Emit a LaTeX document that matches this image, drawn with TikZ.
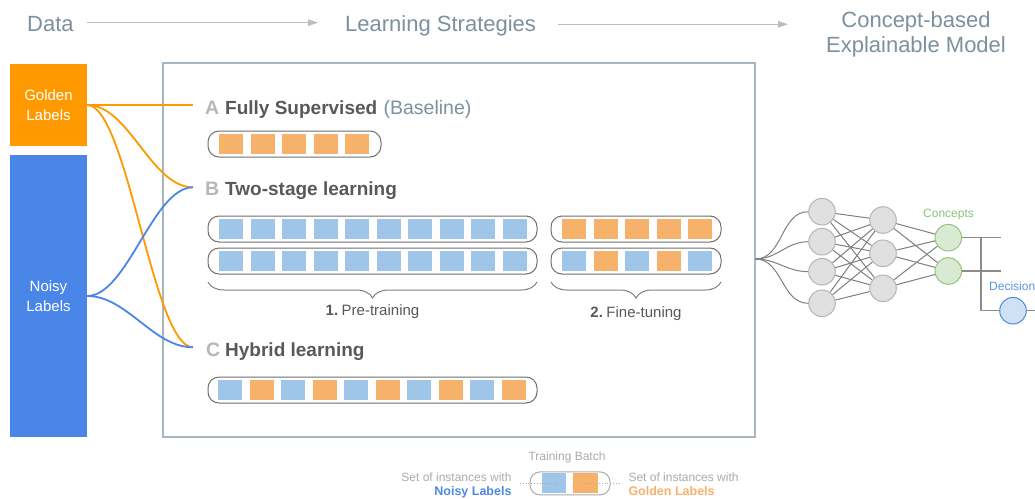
\documentclass[tikz,border=0pt]{standalone}
\usepackage{fontspec}
\setmainfont{Liberation Sans}
\usetikzlibrary{arrows.meta,decorations.pathreplacing,calc}
\definecolor{titlec}{HTML}{7B919E}
\definecolor{arrowc}{HTML}{BDBDBD}
\definecolor{goldc}{HTML}{FF9900}
\definecolor{noisyc}{HTML}{4A86E8}
\definecolor{sqo}{HTML}{F6B26B}
\definecolor{sqb}{HTML}{9FC5E8}
\definecolor{framec}{HTML}{A7B6C1}
\definecolor{letterc}{HTML}{B7B7B7}
\definecolor{headc}{HTML}{595959}
\definecolor{batchc}{HTML}{6E6E6E}
\definecolor{bracec}{HTML}{808080}
\definecolor{nodefill}{HTML}{E0E0E0}
\definecolor{nodedraw}{HTML}{B5B5B5}
\definecolor{netc}{HTML}{7F7F7F}
\definecolor{confill}{HTML}{D9EAD3}
\definecolor{condraw}{HTML}{93C47D}
\definecolor{context}{HTML}{8BC277}
\definecolor{decfill}{HTML}{CFE2F3}
\definecolor{decdraw}{HTML}{4F8BDB}
\definecolor{dectext}{HTML}{5B95E0}
\definecolor{legc}{HTML}{ABABAB}
\definecolor{legblue}{HTML}{5088E2}
\begin{document}
\begin{tikzpicture}[x=1pt,y=-1pt,
  title/.style={inner sep=0, text=titlec, font=\fontsize{22}{26}\selectfont},
  databox/.style={inner sep=0, minimum width=77, text=white, align=center, font=\fontsize{15}{19.5}\selectfont},
  letter/.style={inner sep=0, anchor=base west, text=letterc, font=\fontsize{19.5}{23}\selectfont\bfseries},
  head/.style={inner sep=0, anchor=base west, text=headc, font=\fontsize{19}{23}\selectfont\bfseries},
  sub/.style={inner sep=0, anchor=base west, text=titlec, font=\fontsize{19.5}{23}\selectfont},
  batch/.style={draw=batchc, line width=1, rounded corners=11, minimum height=26, inner sep=0},
  sqorange/.style={fill=sqo, minimum width=24, minimum height=20, inner sep=0},
  sqblue/.style={fill=sqb, minimum width=24, minimum height=20, inner sep=0},
  gline/.style={draw=goldc, line width=1.8},
  nline/.style={draw=noisyc, line width=1.8},
  bracestyle/.style={draw=bracec, line width=1, decorate, decoration={brace, mirror, amplitude=16}},
  phase/.style={inner sep=0, anchor=base, text=headc, font=\fontsize{15}{18}\selectfont},
  neuron/.style={circle, fill=nodefill, draw=nodedraw, line width=1, minimum size=26.6, inner sep=0},
  concept/.style={circle, fill=confill, draw=condraw, line width=1, minimum size=26.6, inner sep=0},
  decision/.style={circle, fill=decfill, draw=decdraw, line width=1, minimum size=26.6, inner sep=0},
  netline/.style={draw=netc, line width=1},
  outline/.style={draw=netc!90, line width=1.4},
  legtext/.style={inner sep=0, text=legc, font=\fontsize{12}{14}\selectfont},
  legbold/.style={inner sep=0, font=\fontsize{12.5}{14}\selectfont\bfseries},
  dotline/.style={draw=legc, line width=0.8, dotted},
  grayarrow/.style={draw=arrowc, line width=1, -{Triangle[length=10pt,width=6.5pt]}}
]
\clip (0,0) rectangle (1035,498);
\fill[white] (0,0) rectangle (1035,498);

% ---- titles ----
\node[title, anchor=base west] (data) at (27,31.5) {Data};
\node[title, anchor=base west] (ls) at (345,31.5) {Learning Strategies};
\node[title, anchor=base] (cm1) at (916,27.7) {Concept-based};
\node[title, anchor=base] (cm2) at (916,52.7) {Explainable Model};
\coordinate (a1s) at (87,22.7);
\coordinate (a1e) at (318,22.7);
\coordinate (a2s) at (558,24.3);
\coordinate (a2e) at (788,24.3);
\draw[grayarrow] (a1s) -- (a1e);
\draw[grayarrow] (a2s) -- (a2e);

% ---- data boxes ----
\node[databox, fill=goldc, minimum height=82] (gold) at (48.5,105) {Golden\\Labels};
\node[databox, fill=noisyc, minimum height=282] (noisy) at (48.5,296) {Noisy\\Labels};

% ---- strategies frame ----
\node[draw=framec, line width=1.5, minimum width=592, minimum height=374, inner sep=0] (frame) at (459,250) {};

% ---- connection targets ----
\coordinate (tA) at (193,105);
\coordinate (tB) at (193,187.3);
\coordinate (tC) at (193,347.3);
\draw[gline] (gold.east) -- (tA);
\draw[gline] (gold.east) .. controls ($(gold.east)+(42,0)$) and ($(tB)+(-42,0)$) .. (tB);
\draw[gline] (gold.east) .. controls ($(gold.east)+(40,0)$) and ($(tC)+(-40,0)$) .. (tC);
\draw[nline] (noisy.east) .. controls ($(noisy.east)+(40,0)$) and ($(tB)+(-40,0)$) .. (tB);
\draw[nline] (noisy.east) .. controls ($(noisy.east)+(40,0)$) and ($(tC)+(-40,0)$) .. (tC);

% ---- A ----
\node[letter] (Al) at (205,114) {A};
\node[head] (Ah) at (225,114) {Fully Supervised};
\node[sub] (Ab) at ([xshift=6]Ah.base east) {(Baseline)};
\node[batch, minimum width=173] (bA) at (294.5,144) {};
\foreach \i in {0,...,4} \node[sqorange] (sA\i) at (231+\i*31.5,144) {};

% ---- B ----
\node[letter] (Bl) at (205,195) {B};
\node[head] (Bh) at (225,195) {Two-stage learning};
\node[batch, minimum width=329] (bB1) at (372.5,229) {};
\node[batch, minimum width=329] (bB2) at (372.5,261) {};
\foreach \i in {0,...,9} {
  \node[sqblue] (sB1\i) at (231+\i*31.5,229) {};
  \node[sqblue] (sB2\i) at (231+\i*31.5,261) {};
}
\node[batch, minimum width=170] (bF1) at (636,229) {};
\node[batch, minimum width=170] (bF2) at (636,261) {};
\foreach \i in {0,...,4} \node[sqorange] (sF1\i) at (574+\i*31.5,229) {};
\foreach \i/\s in {0/sqblue,1/sqorange,2/sqblue,3/sqorange,4/sqblue} \node[\s] (sF2\i) at (574+\i*31.5,261) {};
\coordinate (br1s) at (208,282);
\coordinate (br1e) at (537,282);
\coordinate (br2s) at (551,282);
\coordinate (br2e) at (721,282);
\draw[bracestyle] (br1s) -- (br1e);
\draw[bracestyle] (br2s) -- (br2e);
\node[phase] (pre) at (372.5,315.5) {\textbf{1.}\hspace{3.5pt}Pre-training};
\node[phase] (fine) at (636,317) {\textbf{2.}\hspace{3.5pt}Fine-tuning};

% ---- C ----
\node[letter] (Cl) at (206,356.7) {C};
\node[head] (Ch) at (225,356.7) {Hybrid learning};
\node[batch, minimum width=329] (bC) at (372.5,390) {};
\foreach \i in {0,2,4,6,8} \node[sqblue] (sC\i) at (230+\i*31.5,390) {};
\foreach \i in {1,3,5,7,9} \node[sqorange] (sC\i) at (230+\i*31.5,390) {};

% ---- network ----
\node[neuron] (n1) at (822,211.7) {};
\node[neuron] (n2) at (822,241.7) {};
\node[neuron] (n3) at (822,271.7) {};
\node[neuron] (n4) at (822,303.3) {};
\node[neuron] (m1) at (883,220) {};
\node[neuron] (m2) at (883,253.3) {};
\node[neuron] (m3) at (883,288.3) {};
\node[concept] (c1) at (948.3,237.7) {};
\node[concept] (c2) at (948.3,271) {};
\node[decision] (dec) at (1013,310.7) {};
\coordinate (fan) at (755.5,259);
\foreach \n in {n1,n2,n3,n4} \draw[netline] (fan) to[out=0,in=180] (\n.west);
\foreach \a in {n1,n2,n3,n4} \foreach \b in {m1,m2,m3} \draw[netline] (\a) -- (\b);
\foreach \a in {m1,m2,m3} \foreach \b in {c1,c2} \draw[netline] (\a) -- (\b);
\coordinate (c1o) at (1001,237.7);
\coordinate (c2o) at (1001,271);
\coordinate (vt) at (981,237.7);
\coordinate (dout) at (1040,310.7);
\draw[outline] (c1) -- (c1o);
\draw[outline] (c2) -- (c2o);
\draw[outline] (vt) |- (dec);
\draw[outline] (dec) -- (dout);
\node[inner sep=0, anchor=base, text=context, font=\fontsize{12}{14}\selectfont] (conlab) at (948.5,217.7) {Concepts};
\node[inner sep=0, anchor=base west, text=dectext, font=\fontsize{12}{14}\selectfont] (declab) at (989,290) {Decision};

% ---- legend ----
\node[legtext, anchor=base] (tb) at (567,460.7) {Training Batch};
\node[draw=legc, line width=1, rounded corners=10, minimum width=80, minimum height=23, inner sep=0] (lb) at (570,483.4) {};
\node[sqblue, minimum width=23.4, minimum height=20] (lbs) at (554,483.3) {};
\node[sqorange, minimum width=25, minimum height=20] (los) at (585.8,483.3) {};
\node[legtext, anchor=base east] (ln1) at (511.7,481.7) {Set of instances with};
\node[legbold, anchor=base east, text=legblue] (ln2) at (511.7,495) {Noisy Labels};
\node[legtext, anchor=base west] (lg1) at (628.3,481.7) {Set of instances with};
\node[legbold, anchor=base west, text=sqo] (lg2) at (628.3,495) {Golden Labels};
\coordinate (d1s) at (520,483.3);
\coordinate (d1e) at (557,483.3);
\coordinate (d2s) at (585,483.3);
\coordinate (d2e) at (620,483.3);
\draw[dotline] (d1s) -- (d1e);
\draw[dotline] (d2s) -- (d2e);
\end{tikzpicture}
\end{document}
